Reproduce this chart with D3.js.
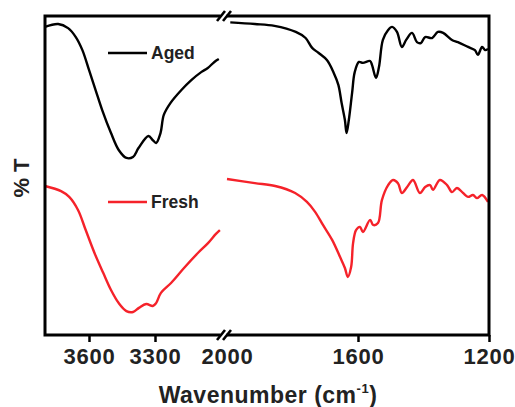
<!DOCTYPE html>
<html>
<head>
<meta charset="utf-8">
<script src="https://cdn.jsdelivr.net/npm/d3@7"></script>
<style>
  body { margin: 0; background: #fff; }
  svg text { font-family: "Liberation Sans", Arial, sans-serif; font-weight: bold; fill: #222; }
</style>
</head>
<body>
<svg id="chart" width="515" height="407"></svg>
<script>
// FTIR spectra, broken x axis: 3800-3000 | 2000-1200 cm-1
const xTicksHigh = [3600, 3300];
const xTicksLow = [2000, 1600, 1200];

const agedHighWn = [3800, 3740, 3695, 3660, 3630, 3600, 3570, 3540, 3500, 3465, 3430, 3400, 3375, 3330, 3310, 3295, 3275, 3260, 3230, 3180, 3135, 3090, 3060, 3030, 3010];
const agedHighT = [96.6, 97.5, 96.2, 93.4, 89.3, 83.1, 76.8, 70.5, 63.3, 58.0, 55.5, 55.8, 58.6, 62.4, 61.1, 60.2, 63.3, 69.0, 72.7, 76.8, 79.9, 82.4, 83.7, 85.6, 86.5];

const agedLowWn = [1990, 1915, 1855, 1790, 1760, 1740, 1720, 1695, 1675, 1660, 1650, 1640, 1635, 1628, 1618, 1610, 1597, 1585, 1563, 1557, 1545, 1536, 1524, 1508, 1496, 1481, 1466, 1453, 1435, 1420, 1408, 1395, 1374, 1356, 1340, 1313, 1295, 1264, 1243, 1234, 1221, 1212, 1203];
const agedLowT = [98.0, 97.5, 96.9, 95.0, 93.1, 90.0, 88.4, 86.2, 82.4, 78.4, 72.7, 67.4, 63.3, 67.4, 75.9, 82.4, 85.6, 85.3, 85.9, 84.6, 80.6, 84.0, 92.5, 95.6, 96.6, 95.0, 90.3, 92.5, 94.7, 91.8, 91.5, 93.4, 93.1, 95.0, 94.7, 92.5, 91.8, 90.3, 89.3, 87.8, 90.3, 89.3, 89.7];

const freshHighWn = [3800, 3727, 3690, 3650, 3615, 3575, 3535, 3500, 3465, 3430, 3400, 3373, 3340, 3310, 3295, 3273, 3227, 3168, 3105, 3059, 3023, 3005];
const freshHighT = [46.7, 45.1, 43.3, 39.2, 32.9, 25.7, 19.4, 14.1, 10.0, 7.5, 7.2, 8.5, 9.7, 9.1, 10.0, 13.2, 16.3, 21.0, 25.7, 28.8, 31.7, 32.9];

const freshLowWn = [2000, 1915, 1853, 1792, 1756, 1731, 1707, 1679, 1655, 1640, 1631, 1621, 1615, 1606, 1594, 1585, 1563, 1554, 1539, 1527, 1508, 1493, 1478, 1466, 1450, 1432, 1411, 1395, 1380, 1371, 1350, 1328, 1313, 1298, 1279, 1264, 1249, 1237, 1221, 1203];
const freshLowT = [48.9, 47.6, 46.7, 44.5, 41.7, 38.6, 34.5, 29.8, 24.5, 21.0, 18.2, 21.3, 28.8, 32.9, 33.9, 32.3, 36.1, 34.5, 35.1, 42.3, 47.0, 48.6, 47.6, 44.5, 46.4, 48.6, 44.5, 46.4, 47.0, 45.5, 48.6, 47.0, 44.8, 46.1, 44.5, 43.3, 43.9, 42.9, 43.9, 41.7];

const series = [
  { name: "Aged", color: "#000", high: [agedHighWn, agedHighT], low: [agedLowWn, agedLowT], legendY: 53 },
  { name: "Fresh", color: "#f5222a", high: [freshHighWn, freshHighT], low: [freshLowWn, freshLowT], legendY: 202 },
];

const plotLeft = 45, plotRight = 489, plotTop = 16, plotBottom = 335;
const breakX = 224;

const svg = d3.select("#chart");

const xHigh = d3.scaleLinear().domain([3800, 3000]).range([plotLeft, breakX - 3]);
const xLow = d3.scaleLinear().domain([2000, 1200]).range([breakX + 3, plotRight]);
const y = d3.scaleLinear().domain([0, 100]).range([plotBottom, plotTop]);

// curves
series.forEach((s) => {
  [[xHigh, s.high], [xLow, s.low]].forEach(([xs, [wn, t]]) => {
    const pts = wn.map((w, i) => [xs(w), y(t[i])]);
    svg.append("path")
      .attr("d", d3.line().curve(d3.curveCatmullRom.alpha(0.5))(pts))
      .attr("fill", "none")
      .attr("stroke", s.color)
      .attr("stroke-width", 2.4)
      .attr("stroke-linejoin", "round");
  });

  svg.append("line")
    .attr("x1", 108).attr("x2", 147)
    .attr("y1", s.legendY).attr("y2", s.legendY)
    .attr("stroke", s.color).attr("stroke-width", 2.4);
  svg.append("text")
    .attr("x", 151).attr("y", s.legendY + 6)
    .style("font-size", "17.5px")
    .text(s.name);
});

// axes
function bottomAxis(xs, ticks) {
  const g = svg.append("g")
    .attr("transform", `translate(0,${plotBottom})`)
    .call(d3.axisBottom(xs).tickValues(ticks).tickSize(7).tickPadding(6).tickFormat(d3.format("d")));
  g.select(".domain").remove();
  g.selectAll(".tick line").attr("stroke", "#000").attr("stroke-width", 2.5)
    .filter((d) => d === 2000).remove();
  g.selectAll(".tick text")
    .style("font-size", "22px")
    .style("letter-spacing", "0.8px")
    .attr("fill", "#222");
}
bottomAxis(xHigh, xTicksHigh);
bottomAxis(xLow, xTicksLow);

const frame = svg.append("g").attr("stroke", "#000").attr("stroke-width", 3).attr("fill", "none");
frame.append("path").attr("d", `M${breakX - 5},${plotTop}H${plotLeft}V${plotBottom}H${breakX - 5}`).attr("stroke-linecap", "square");
frame.append("path").attr("d", `M${breakX + 4},${plotTop}H${plotRight}V${plotBottom}H${breakX + 4}`).attr("stroke-linecap", "square");

// break marks
[plotTop, plotBottom].forEach((yy) => {
  [-3, 3].forEach((dx) => {
    frame.append("line")
      .attr("x1", breakX + dx - 4).attr("y1", yy + 5)
      .attr("x2", breakX + dx + 4).attr("y2", yy - 5)
      .attr("stroke-width", 2.6);
  });
});

// titles
const xt = svg.append("text")
  .attr("x", 268).attr("y", 403)
  .attr("text-anchor", "middle")
  .style("font-size", "23px")
  .style("letter-spacing", "0.5px");
xt.append("tspan").text("Wavenumber (cm");
xt.append("tspan").attr("dy", -10).style("font-size", "13px").text("-1");
xt.append("tspan").attr("dy", 10).text(")");

svg.append("text")
  .attr("transform", "translate(29,178) rotate(-90)")
  .attr("text-anchor", "middle")
  .style("font-size", "22px")
  .text("% T");
</script>
</body>
</html>
